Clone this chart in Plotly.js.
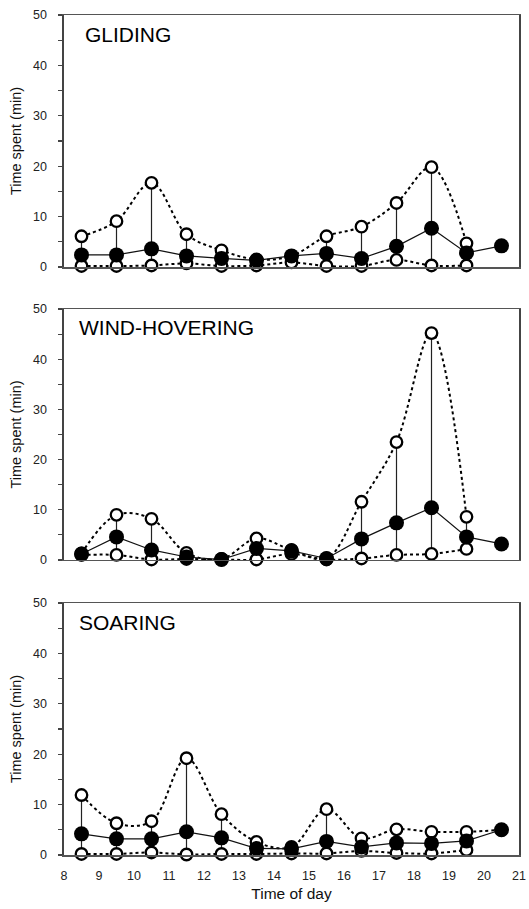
<!DOCTYPE html>
<html>
<head>
<meta charset="utf-8">
<script src="https://cdn.plot.ly/plotly-3.0.1.min.js"></script>
<style>html,body{margin:0;padding:0;background:#fff;}#chart{width:529px;height:909px;}</style>
</head>
<body>
<div id="chart"></div>
<script>
// Time of day (hour midpoints)
const hours = [8.5, 9.5, 10.5, 11.5, 12.5, 13.5, 14.5, 15.5, 16.5, 17.5, 18.5, 19.5, 20.5];
const xTicks = [8, 9, 10, 11, 12, 13, 14, 15, 16, 17, 18, 19, 20, 21];
const yTicks = [0, 10, 20, 30, 40, 50];

const panelNames = ["GLIDING", "WIND-HOVERING", "SOARING"];

// GLIDING
const glidingMax = [6.1, 9.1, 16.7, 6.5, 3.3, 1.5, 2.2, 6.1, 8.0, 12.7, 19.8, 4.7, null];
const glidingMed = [2.4, 2.4, 3.6, 2.2, 1.7, 1.3, 2.2, 2.7, 1.7, 4.1, 7.7, 2.8, 4.2];
const glidingMin = [0.2, 0.2, 0.3, 0.7, 0.2, 0.3, 0.9, 0.2, 0.2, 1.4, 0.3, 0.3, null];

// WIND-HOVERING
const hoverMax = [1.3, 9.0, 8.2, 1.4, 0.2, 4.3, 2.0, 0.3, 11.6, 23.5, 45.2, 8.6, null];
const hoverMed = [1.2, 4.6, 2.0, 0.6, 0.1, 2.3, 1.8, 0.3, 4.2, 7.4, 10.4, 4.6, 3.2];
const hoverMin = [1.0, 1.0, 0.1, 0.2, 0.1, 0.1, 1.2, 0.1, 0.3, 1.0, 1.2, 2.2, null];

// SOARING
const soarMax = [11.9, 6.3, 6.7, 19.2, 8.1, 2.6, 1.6, 9.1, 3.3, 5.1, 4.6, 4.6, 5.0];
const soarMed = [4.2, 3.2, 3.2, 4.6, 3.4, 1.3, 1.2, 2.7, 1.6, 2.4, 2.3, 2.8, 5.0];
const soarMin = [0.2, 0.2, 0.5, 0.1, 0.2, 0.2, 0.3, 0.3, 0.8, 0.4, 0.3, 1.0, null];

const panels = [
  {name: panelNames[0], max: glidingMax, med: glidingMed, min: glidingMin, lx: 0.042, ly: 0.922},
  {name: panelNames[1], max: hoverMax, med: hoverMed, min: hoverMin, lx: 0.028, ly: 0.925},
  {name: panelNames[2], max: soarMax, med: soarMed, min: soarMin, lx: 0.028, ly: 0.922}
];

const FONT = "Liberation Sans, Arial, sans-serif";
const traces = [];
const annotations = [];
const layout = {
  width: 529, height: 909,
  margin: {l: 64, r: 10, t: 15, b: 54},
  paper_bgcolor: "#fff", plot_bgcolor: "#fff",
  showlegend: false,
  font: {family: FONT, color: "#111"}
};

const domains = [[0.7, 1.0], [0.3512, 0.65], [0.0, 0.3]];

panels.forEach((p, i) => {
  const xa = "x" + (i + 1), ya = "y" + (i + 1);
  // vertical range lines
  const vx = [], vy = [];
  hours.forEach((h, k) => {
    if (p.max[k] != null && p.min[k] != null) {
      vx.push(h, h, null); vy.push(p.min[k], p.max[k], null);
    }
  });
  traces.push({x: vx, y: vy, xaxis: xa, yaxis: ya, mode: "lines", type: "scatter",
    line: {color: "#222", width: 1.2}, hoverinfo: "skip", cliponaxis: false});
  [p.min, p.max].forEach(arr => {
    traces.push({x: hours, y: arr, xaxis: xa, yaxis: ya, mode: "lines+markers", type: "scatter",
      line: {color: "#000", width: 2, dash: "dot", shape: "spline", smoothing: 1},
      marker: {symbol: "circle", size: 11.5, color: "#fff", line: {color: "#000", width: 2.3}},
      cliponaxis: false, connectgaps: false});
  });
  traces.push({x: hours, y: p.med, xaxis: xa, yaxis: ya, mode: "lines+markers", type: "scatter",
    line: {color: "#111", width: 1.2},
    marker: {symbol: "circle", size: 15, color: "#000"},
    cliponaxis: false});

  const xKey = "xaxis" + (i === 0 ? "" : (i + 1));
  const yKey = "yaxis" + (i === 0 ? "" : (i + 1));
  layout[xKey] = {
    anchor: ya, domain: [0, 1], range: [8, 21],
    tickvals: xTicks, ticktext: xTicks.map(String),
    showticklabels: i === 2, ticks: "", showgrid: false, zeroline: false,
    showline: true, mirror: true, linecolor: "#555", linewidth: 1.5,
    tickfont: {family: FONT, size: 12.5, color: "#222"},
    ticklabelstandoff: 8,
    title: i === 2 ? {text: "Time of day", font: {family: FONT, size: 15.5, color: "#111"}, standoff: 6} : {text: ""}
  };
  layout[yKey] = {
    anchor: xa, domain: domains[i], range: [0, 50],
    tickvals: yTicks, ticks: "outside", ticklen: 4, tickwidth: 1.2, tickcolor: "#444",
    minor: {dtick: 5, tick0: 0, ticks: "outside", ticklen: 4, tickwidth: 1.2, tickcolor: "#444"},
    showgrid: false, zeroline: false,
    showline: true, mirror: true, linecolor: "#444", linewidth: 1.6,
    tickfont: {family: FONT, size: 12.5, color: "#222"},
    ticklabelstandoff: 9,
    title: {text: "Time spent (min)", font: {family: FONT, size: 14.5, color: "#111"}, standoff: 8}
  };
  annotations.push({
    text: p.name, xref: xa + " domain", yref: ya + " domain",
    x: p.lx, y: p.ly, xanchor: "left", yanchor: "middle", showarrow: false,
    font: {family: FONT, size: 21, color: "#000"}
  });
});
layout.annotations = annotations;

Plotly.newPlot("chart", traces, layout, {staticPlot: true, displayModeBar: false});
</script>
</body>
</html>
